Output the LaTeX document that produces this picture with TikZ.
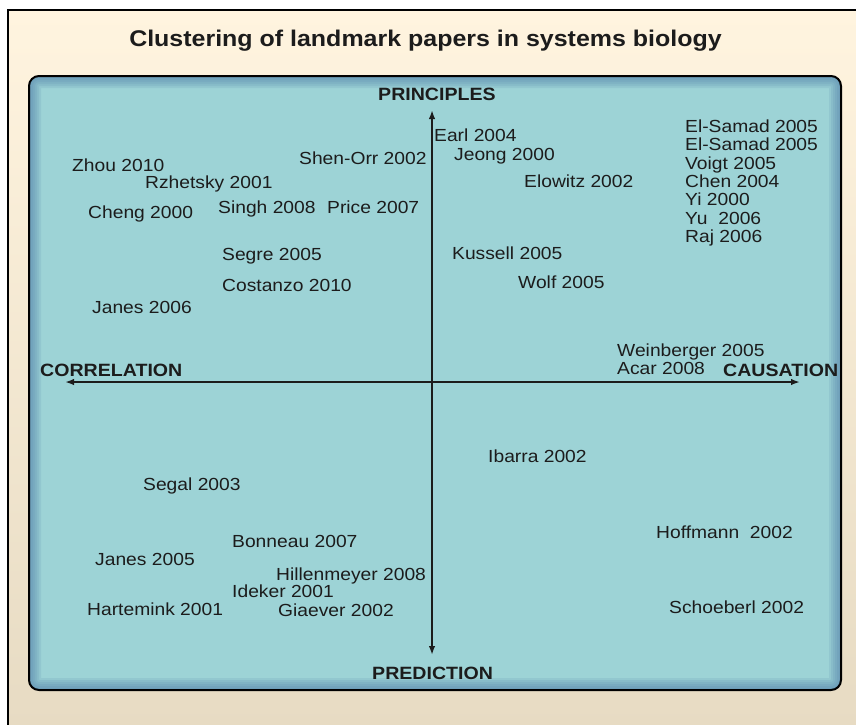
\documentclass[tikz,border=0pt]{standalone}
\usepackage{fontspec}
\setmainfont{Liberation Sans}[FakeStretch=1.1]
\usetikzlibrary{arrows.meta}
\definecolor{cream}{RGB}{255,244,223}
\definecolor{sand}{RGB}{231,219,195}
\definecolor{panelteal}{RGB}{157,211,214}
\definecolor{paneledge}{RGB}{80,128,170}
\definecolor{ink}{RGB}{28,28,28}
\tikzstyle{paper} = [anchor=base west, inner sep=0pt, text=ink, font=\fontsize{17.5}{18}\selectfont]
\tikzstyle{axislabel} = [anchor=base west, inner sep=0pt, text=ink, font=\bfseries\fontsize{17.8}{18}\selectfont]
\tikzstyle{aedge} = [draw=ink, line width=2pt, -{Latex[length=9pt,width=6.5pt]}]

\begin{document}
\begin{tikzpicture}[x=1pt,y=-1pt]
\useasboundingbox (0,0) rectangle (856,724);

% frame and panel =========================
\fill[white] (0,0) rectangle (856,724);
\shade[top color=cream, bottom color=sand] (8,10) rectangle (860,728);
\draw[black, line width=2pt] (860,10) -- (8,10) -- (8,728);
\fill[panelteal, rounded corners=10pt] (29,76) rectangle (841,690);
\begin{scope}
\clip[rounded corners=10pt] (29,76) rectangle (841,690);
\foreach \w in {4,8,...,24}
  \draw[paneledge, opacity=0.14, line width=\w pt, rounded corners=10pt] (29,76) rectangle (841,690);
\end{scope}
\draw[black, line width=2pt, rounded corners=10pt] (29,76) rectangle (841,690);

\node[text=ink, anchor=base, inner sep=0pt, font=\bfseries\fontsize{22.7}{24}\selectfont] (title) at (425.5,46) {Clustering of landmark papers in systems biology};

% axes
\coordinate (centre) at (432,382);
\coordinate (west) at (65,382);
\coordinate (east) at (800,382);
\coordinate (north) at (432,110);
\coordinate (south) at (432,655);
\draw[aedge] (centre) -- (west);
\draw[aedge] (centre) -- (east);
\draw[aedge] (centre) -- (north);
\draw[aedge] (centre) -- (south);

\node[axislabel] (principles) at (378,100) {PRINCIPLES};
\node[axislabel] (prediction) at (372,679) {PREDICTION};
\node[axislabel] (correlation) at (40,376) {CORRELATION};
\node[axislabel] (causation) at (723,376) {CAUSATION};

% upper left
\node[paper] (zhou10) at (72,171) {Zhou 2010};
\node[paper] (rzhetsky01) at (145,188) {Rzhetsky 2001};
\node[paper] (cheng00) at (88,218) {Cheng 2000};
\node[paper] (singh08) at (218,213) {Singh 2008};
\node[paper] (price07) at (327,213) {Price 2007};
\node[paper] (shenorr02) at (299,164) {Shen-Orr 2002};
\node[paper] (segre05) at (222,260) {Segre 2005};
\node[paper] (costanzo10) at (222,291) {Costanzo 2010};
\node[paper] (janes06) at (92,313) {Janes 2006};

% upper right
\node[paper] (earl04) at (434,141) {Earl 2004};
\node[paper] (jeong00) at (454,160) {Jeong 2000};
\node[paper] (elowitz02) at (524,187) {Elowitz 2002};
\node[paper] (kussell05) at (452,259) {Kussell 2005};
\node[paper] (wolf05) at (518,288) {Wolf 2005};
\node[paper] (elsamad05a) at (685,132.3) {El-Samad 2005};
\node[paper] (elsamad05b) at (685,150.7) {El-Samad 2005};
\node[paper] (voigt05) at (685,169) {Voigt 2005};
\node[paper] (chen04) at (685,187.3) {Chen 2004};
\node[paper] (yi00) at (685,205.6) {Yi 2000};
\node[paper] (yu06) at (685,224) {Yu\ \ 2006};
\node[paper] (raj06) at (685,242.3) {Raj 2006};
\node[paper] (weinberger05) at (617,356) {Weinberger 2005};
\node[paper] (acar08) at (617,374) {Acar 2008};

% lower half
\node[paper] (ibarra02) at (488,462) {Ibarra 2002};
\node[paper] (hoffmann02) at (656,538) {Hoffmann\ \ 2002};
\node[paper] (schoeberl02) at (669,613) {Schoeberl 2002};
\node[paper] (segal03) at (143,490) {Segal 2003};
\node[paper] (bonneau07) at (232,547) {Bonneau 2007};
\node[paper] (janes05) at (95,565) {Janes 2005};
\node[paper] (hillenmeyer08) at (276,580) {Hillenmeyer 2008};
\node[paper] (ideker01) at (232,597) {Ideker 2001};
\node[paper] (hartemink01) at (87,615) {Hartemink 2001};
\node[paper] (giaever02) at (278,616) {Giaever 2002};

\end{tikzpicture}
\end{document}
